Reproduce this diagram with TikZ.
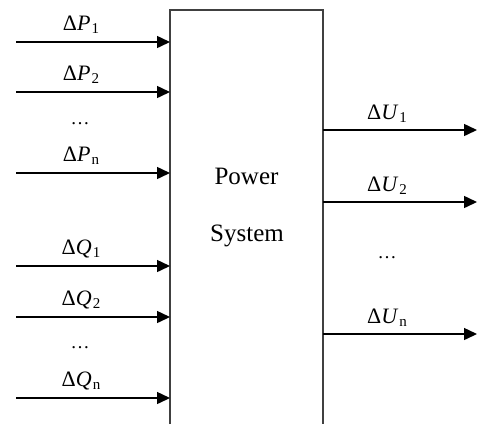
\documentclass[tikz,border=0pt]{standalone}
\usepackage{fontspec}
\setmainfont{Liberation Serif}
\usetikzlibrary{arrows.meta}
\newcommand{\lab}[2]{Δ\textit{#1}\kern1pt\raisebox{-3pt}{\fontsize{15}{15}\selectfont #2}}
\begin{document}
\begin{tikzpicture}[x=1pt,y=-1pt,
  sig/.style={draw=black,line width=1.5pt,-{Triangle[length=13pt,width=12pt]}},
  boxline/.style={draw=black!75,line width=1.6pt},
  lbl/.style={anchor=base,inner sep=0pt,font=\fontsize{22}{22}\selectfont},
  dts/.style={anchor=base,inner sep=0pt,font=\fontsize{19}{19}\selectfont},
  txt/.style={anchor=base,inner sep=0pt,font=\fontsize{25}{25}\selectfont}]
\useasboundingbox (0,0) rectangle (484,424);
% box (open at bottom)
\coordinate (bl) at (170,424);
\coordinate (tl) at (170,10);
\coordinate (tr) at (323,10);
\coordinate (br) at (323,424);
\draw[boxline] (bl) -- (tl) -- (tr) -- (br);
\node[txt] (power) at (246.5,184) {Power};
\node[txt] (system) at (247,241.5) {System};
% inputs
\foreach \n/\y/\t/\s in {p1/42/P/1, p2/92/P/2, pn/173/P/n, q1/266/Q/1, q2/317/Q/2, qn/398/Q/n}{
  \coordinate (\n s) at (16,\y);
  \coordinate (\n e) at (170,\y);
  \draw[sig] (\n s) -- (\n e);
  \node[lbl] (\n l) at (81,\y-12) {\lab{\t}{\s}};
}
\node[dts] (pdots) at (80,124) {…};
\node[dts] (qdots) at (80,348) {…};
% outputs
\foreach \n/\y/\s in {u1/130/1, u2/202/2, un/334/n}{
  \coordinate (\n s) at (323,\y);
  \coordinate (\n e) at (477,\y);
  \draw[sig] (\n s) -- (\n e);
  \node[lbl] (\n l) at (387,\y-11) {\lab{U}{\s}};
}
\node[dts] (udots) at (387,258) {…};
\end{tikzpicture}
\end{document}
